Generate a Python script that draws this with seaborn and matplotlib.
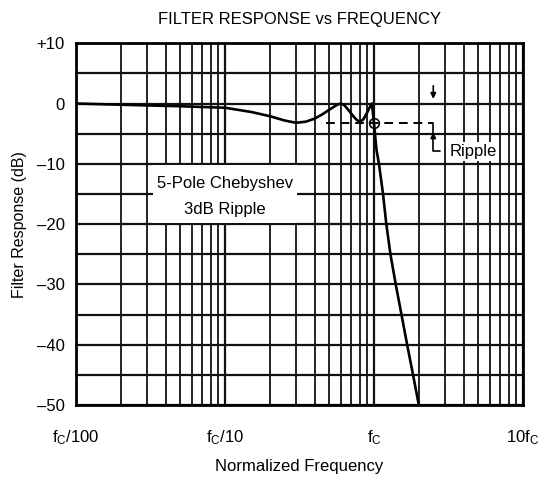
import matplotlib
matplotlib.use("Agg")
import matplotlib.pyplot as plt
import seaborn as sns
import pandas as pd
from matplotlib.patches import Rectangle
from matplotlib.ticker import FixedLocator, NullFormatter, LogLocator

# ---- data ----
freq = [0.01, 0.02, 0.05, 0.1, 0.15, 0.2, 0.25, 0.3, 0.35, 0.4, 0.45, 0.5,
        0.55, 0.58, 0.6, 0.63, 0.67, 0.7, 0.75, 0.8, 0.85, 0.9, 0.95, 0.97,
        1.0, 1.04, 1.08, 1.15, 1.21, 1.29, 1.40, 1.53, 1.67, 1.83, 2.0]
response_db = [0.0, -0.2, -0.45, -0.7, -1.4, -2.1, -2.8, -3.2, -3.0, -2.5, -1.8, -1.05,
               -0.4, -0.1, 0.0, -0.25, -1.0, -1.6, -2.5, -3.1, -2.6, -1.5, -0.3, 0.0,
               -3.3, -7.7, -10.0, -15.0, -20.0, -25.0, -30.0, -35.0, -40.0, -45.0, -50.0]
ripple_db = -3.3
ripple_span = [0.48, 2.5]
x_tick_vals = [0.01, 0.1, 1.0, 10.0]
x_tick_labels = [r'$\mathregular{f_C/100}$', r'$\mathregular{f_C/10}$',
                 r'$\mathregular{f_C}$', r'$\mathregular{10f_C}$']
y_tick_vals = [10, 0, -10, -20, -30, -40, -50]
y_tick_labels = ['+10', '0', '\u201310', '\u201320', '\u201330', '\u201340', '\u201350']

sns.set_style("white")
plt.rcParams['font.family'] = ['Liberation Sans', 'DejaVu Sans']
plt.rcParams['mathtext.fontset'] = 'custom'
plt.rcParams['mathtext.rm'] = 'Liberation Sans'
for key in ['text.color', 'axes.labelcolor', 'xtick.color', 'ytick.color']:
    plt.rcParams[key] = 'black'

fig = plt.figure(figsize=(5.42, 4.8), dpi=100)
ax = fig.add_axes([0.1402, 0.156, 0.8247, 0.754])

df = pd.DataFrame({'f': freq, 'db': response_db})
sns.lineplot(data=df, x='f', y='db', ax=ax, color='black', linewidth=1.9, zorder=5)

ax.set_xscale('log')
ax.set_xlim(0.01, 10)
ax.set_ylim(-50, 10)

# grid
ax.set_axisbelow(True)
ax.xaxis.set_major_locator(FixedLocator(x_tick_vals))
ax.xaxis.set_minor_locator(LogLocator(base=10, subs=range(2, 10)))
ax.xaxis.set_minor_formatter(NullFormatter())
ax.set_xticklabels(x_tick_labels)
ax.set_yticks(y_tick_vals)
ax.set_yticklabels(y_tick_labels)
ax.yaxis.set_minor_locator(FixedLocator(list(range(-45, 10, 10))))
ax.grid(True, which='major', axis='both', color='#111111', linewidth=1.6)
ax.grid(True, which='minor', axis='x', color='#111111', linewidth=1.3)
ax.grid(True, which='minor', axis='y', color='#111111', linewidth=1.6)
ax.tick_params(which='both', length=0)
ax.tick_params(axis='y', pad=8, labelsize=12)
ax.tick_params(axis='x', pad=17, labelsize=12)
for s in ax.spines.values():
    s.set_color('black')
    s.set_linewidth(2)
    s.set_visible(True)

# ripple annotation
ax.plot(ripple_span, [ripple_db, ripple_db], color='black', linestyle=(0, (4.5, 3)),
        linewidth=1.4, zorder=4)
ax.plot([1.0], [ripple_db], marker='o', markersize=7, markerfacecolor='none',
        markeredgecolor='black', markeredgewidth=1.2, zorder=6)
ax.annotate('', xy=(2.5, 0.3), xytext=(2.5, 3.4),
            arrowprops=dict(arrowstyle='-|>', color='black', lw=1.2, mutation_scale=8),
            zorder=6)
ax.plot([2.5, 2.5, 2.77], [ripple_db, -7.8, -7.8], color='black', linewidth=1.2, zorder=6)
ax.annotate('', xy=(2.5, -4.3), xytext=(2.5, -6.0),
            arrowprops=dict(arrowstyle='-|>', color='black', lw=1.2, mutation_scale=8),
            zorder=6)
ax.text(3.2, -7.9, 'Ripple', fontsize=12, va='center', ha='left',
        bbox=dict(facecolor='white', edgecolor='none', pad=1.5), zorder=7)

ax.add_patch(Rectangle((0.033, -19.8), 0.304 - 0.033, 9.6, facecolor='white',
                       edgecolor='none', zorder=3))
ax.text(0.1, -15.4, '5-Pole Chebyshev\n3dB Ripple', fontsize=12, ha='center',
        va='center', linespacing=1.9, zorder=7)

ax.set_xlabel('Normalized Frequency', fontsize=12, labelpad=8)
ax.set_ylabel('Filter Response (dB)', fontsize=11.5, labelpad=7)
ax.set_title('FILTER RESPONSE vs FREQUENCY', fontsize=12, pad=14)

fig.savefig('out.png', dpi=100)
